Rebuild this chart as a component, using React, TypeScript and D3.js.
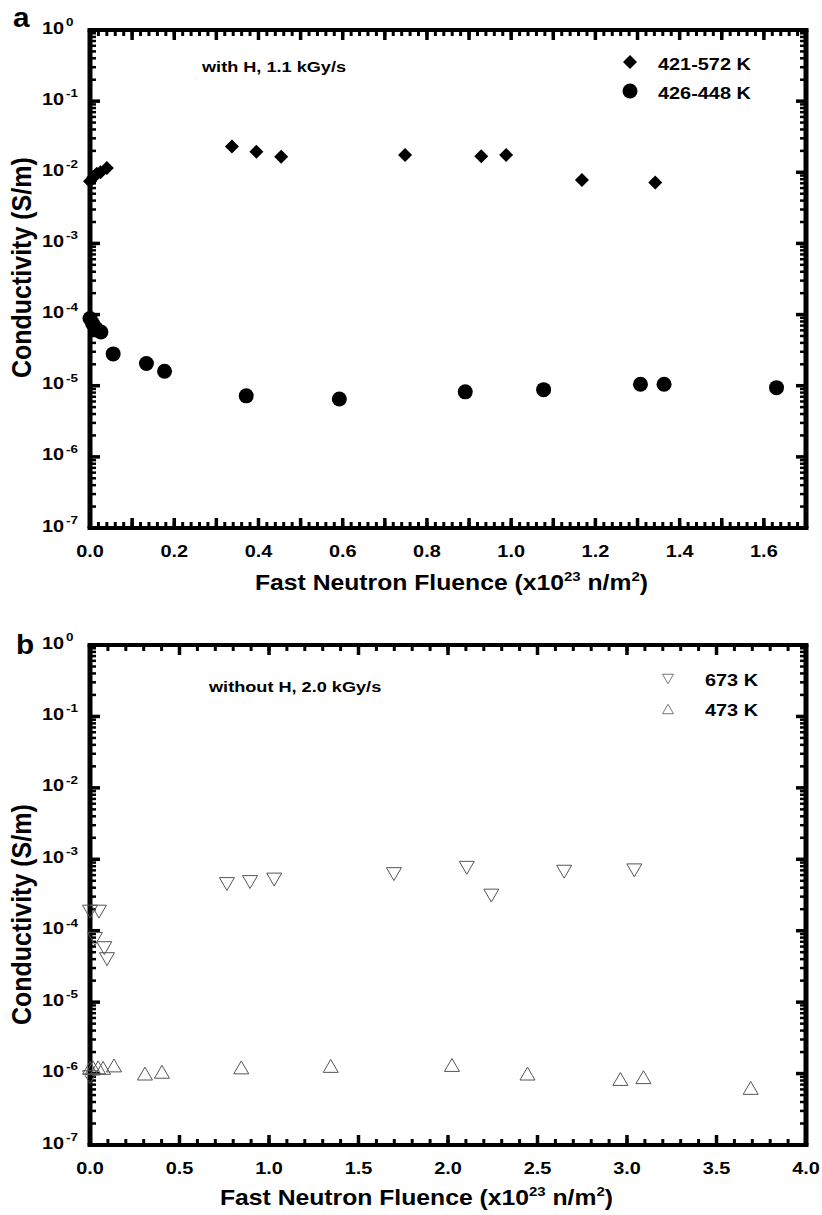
import * as d3 from "d3";
import React from "react";

// panel a: with H, 1.1 kGy/s
const aDiamondFluence = [0.0, 0.008, 0.016, 0.025, 0.04, 0.337, 0.395, 0.454, 0.748, 0.929, 0.988, 1.168, 1.342];
const aDiamondSigma = [7.5e-3, 8.5e-3, 9.5e-3, 1.0e-2, 1.15e-2, 2.3e-2, 1.95e-2, 1.65e-2, 1.75e-2, 1.68e-2, 1.75e-2, 7.8e-3, 7.2e-3];
const aCircleFluence = [0.0, 0.006, 0.014, 0.026, 0.055, 0.134, 0.177, 0.371, 0.592, 0.891, 1.077, 1.307, 1.363, 1.63];
const aCircleSigma = [8.8e-5, 7.5e-5, 6.4e-5, 5.7e-5, 2.8e-5, 2.05e-5, 1.6e-5, 7.2e-6, 6.5e-6, 8.2e-6, 8.8e-6, 1.05e-5, 1.05e-5, 9.4e-6];

// panel b: without H, 2.0 kGy/s
const bDownFluence = [0.0, 0.05, 0.028, 0.08, 0.095, 0.0, 0.765, 0.894, 1.029, 1.698, 2.105, 2.242, 2.649, 3.041];
const bDownSigma = [1.85e-4, 1.85e-4, 7.7e-5, 5.7e-5, 4.0e-5, 8.9e-7, 4.5e-4, 4.8e-4, 5.2e-4, 6.2e-4, 7.6e-4, 3.1e-4, 6.7e-4, 7.0e-4];
const bUpFluence = [0.0, 0.017, 0.045, 0.073, 0.134, 0.307, 0.402, 0.845, 1.345, 2.022, 2.444, 2.963, 3.092, 3.691];
const bUpSigma = [1.2e-6, 1.22e-6, 1.22e-6, 1.2e-6, 1.3e-6, 1.0e-6, 1.06e-6, 1.22e-6, 1.28e-6, 1.32e-6, 1.0e-6, 8.4e-7, 8.9e-7, 6.3e-7];

const aXLabels = [0, 0.2, 0.4, 0.6, 0.8, 1.0, 1.2, 1.4, 1.6];
const bXLabels = [0, 0.5, 1.0, 1.5, 2.0, 2.5, 3.0, 3.5, 4.0];
const yExponents = [-7, -6, -5, -4, -3, -2, -1, 0];
const aLegend = ["421-572 K", "426-448 K"];
const bLegend = ["673 K", "473 K"];
const aNote = "with H, 1.1 kGy/s";
const bNote = "without H, 2.0 kGy/s";

const FONT = "'Liberation Sans', Arial, Helvetica, sans-serif";
const SX = 1.17;

function Txt({ x, y, size, anchor = "start", sx = SX, rotate = false, children }: any) {
  const tr = rotate
    ? `translate(${x},${y}) rotate(-90) scale(1,${sx})`
    : `translate(${x},${y}) scale(${sx},1)`;
  return (
    <text transform={tr} fontSize={size} fontWeight="bold" fontFamily={FONT} textAnchor={anchor} fill="#000">
      {children}
    </text>
  );
}

const diamond = "M0,-7L7,0L0,7L-7,0Z";
const triDown = (s: number) => `M${-s / 2},${-s * 0.43}L${s / 2},${-s * 0.43}L0,${s * 0.43}Z`;
const triUp = (s: number) => `M0,${-s * 0.43}L${s / 2},${s * 0.43}L${-s / 2},${s * 0.43}Z`;

function Panel({ top, bottom, xMax, xMajor, xMinor, xLabels, fmt, children }: any) {
  const left = 90, right = 806;
  const x = d3.scaleLinear().domain([0, xMax]).range([left, right]);
  const y = d3.scaleLog().domain([1e-7, 1]).range([bottom, top]);

  const majX = d3.range(0, xMax + 1e-9, xMajor);
  const minX = d3.range(0, xMax + 1e-9, xMinor);
  const majY = yExponents.map((e) => Math.pow(10, e));
  const minY: number[] = [];
  yExponents.slice(0, -1).forEach((e) => {
    for (let k = 2; k <= 9; k++) minY.push(k * Math.pow(10, e));
  });

  return (
    <g>
      {/* x ticks, bottom and top, pointing inward */}
      {minX.map((v, i) => (
        <g key={"mx" + i}>
          <line x1={x(v)} x2={x(v)} y1={bottom} y2={bottom - 6} stroke="#000" strokeWidth={3} />
          <line x1={x(v)} x2={x(v)} y1={top} y2={top + 6} stroke="#000" strokeWidth={3} />
        </g>
      ))}
      {majX.map((v, i) => (
        <g key={"Mx" + i}>
          <line x1={x(v)} x2={x(v)} y1={bottom} y2={bottom - 10} stroke="#000" strokeWidth={3.5} />
          <line x1={x(v)} x2={x(v)} y1={top} y2={top + 10} stroke="#000" strokeWidth={3.5} />
        </g>
      ))}
      {minY.map((v, i) => (
        <g key={"my" + i}>
          <line x1={left} x2={left + 6} y1={y(v)} y2={y(v)} stroke="#000" strokeWidth={2.5} />
          <line x1={right} x2={right - 6} y1={y(v)} y2={y(v)} stroke="#000" strokeWidth={2.5} />
        </g>
      ))}
      {majY.map((v, i) => (
        <g key={"My" + i}>
          <line x1={left} x2={left + 10} y1={y(v)} y2={y(v)} stroke="#000" strokeWidth={3.5} />
          <line x1={right} x2={right - 10} y1={y(v)} y2={y(v)} stroke="#000" strokeWidth={3.5} />
        </g>
      ))}
      {/* frame */}
      <line x1={left - 2.5} x2={right + 2.5} y1={top} y2={top} stroke="#000" strokeWidth={4} />
      <line x1={left - 2.5} x2={right + 2.5} y1={bottom} y2={bottom} stroke="#000" strokeWidth={4} />
      <line x1={left} x2={left} y1={top} y2={bottom} stroke="#000" strokeWidth={5} />
      <line x1={right} x2={right} y1={top} y2={bottom} stroke="#000" strokeWidth={5} />

      {xLabels.map((v: number, i: number) => (
        <Txt key={"xl" + i} x={x(v)} y={bottom + 29} size={17} anchor="middle">
          {fmt(v)}
        </Txt>
      ))}
      {yExponents.map((e) => (
        <g key={"yl" + e}>
          <Txt x={64} y={y(Math.pow(10, e)) + 3.5} size={17} anchor="end">10</Txt>
          <Txt x={66} y={y(Math.pow(10, e)) - 4} size={11.5}>{e === 0 ? "0" : `-${-e}`}</Txt>
        </g>
      ))}
      {children(x, y)}
    </g>
  );
}

export default function App() {
  const f1 = d3.format(".1f");
  return (
    <svg width={822} height={1215} style={{ position: "absolute", left: 0, top: 0, display: "block", background: "#fff" }}>
      <rect width={822} height={1215} fill="#fff" />
      {/* ---- panel a ---- */}
      <Txt x={13} y={27} size={27} sx={1.1}>a</Txt>
      <Panel top={30} bottom={528} xMax={1.7} xMajor={0.1} xMinor={0.02} xLabels={aXLabels} fmt={f1}>
        {(x: any, y: any) => (
          <g>
            {aDiamondFluence.map((v, i) => (
              <path key={"d" + i} d={diamond} transform={`translate(${x(v)},${y(aDiamondSigma[i])})`} fill="#000" />
            ))}
            {aCircleFluence.map((v, i) => (
              <circle key={"c" + i} cx={x(v)} cy={y(aCircleSigma[i])} r={7.5} fill="#000" />
            ))}
          </g>
        )}
      </Panel>
      <Txt x={202} y={72} size={15.5}>{aNote}</Txt>
      <path d={diamond} transform="translate(630,62)" fill="#000" />
      <Txt x={658} y={70} size={17}>{aLegend[0]}</Txt>
      <circle cx={630} cy={91} r={7.5} fill="#000" />
      <Txt x={658} y={99} size={17}>{aLegend[1]}</Txt>
      <Txt x={31} y={378} size={25} sx={1.12} rotate>Conductivity (S/m)</Txt>
      <Txt x={255} y={590} size={21.5} sx={1.15}>
        Fast Neutron Fluence (x10<tspan dy={-9} fontSize={13}>23</tspan>
        <tspan dy={9}> n/m</tspan>
        <tspan dy={-9} fontSize={13}>2</tspan>
        <tspan dy={9}>)</tspan>
      </Txt>

      {/* ---- panel b ---- */}
      <Txt x={16} y={654} size={27} sx={1.1}>b</Txt>
      <Panel top={645} bottom={1145} xMax={4.0} xMajor={0.5} xMinor={0.1} xLabels={bXLabels} fmt={f1}>
        {(x: any, y: any) => (
          <g>
            {bDownFluence.map((v, i) => (
              <path key={"dn" + i} d={triDown(15)} transform={`translate(${x(v)},${y(bDownSigma[i])})`} fill="none" stroke="#555" strokeWidth={1} />
            ))}
            {bUpFluence.map((v, i) => (
              <path key={"up" + i} d={triUp(15)} transform={`translate(${x(v)},${y(bUpSigma[i])})`} fill="none" stroke="#555" strokeWidth={1} />
            ))}
          </g>
        )}
      </Panel>
      <Txt x={209} y={692} size={15.5}>{bNote}</Txt>
      <path d={triDown(11)} transform="translate(668,679)" fill="none" stroke="#777" strokeWidth={1} />
      <Txt x={705} y={686} size={17}>{bLegend[0]}</Txt>
      <path d={triUp(11)} transform="translate(668,709)" fill="none" stroke="#777" strokeWidth={1} />
      <Txt x={705} y={716} size={17}>{bLegend[1]}</Txt>
      <Txt x={31} y={1025} size={25} sx={1.12} rotate>Conductivity (S/m)</Txt>
      <Txt x={220} y={1205} size={21.5} sx={1.15}>
        Fast Neutron Fluence (x10<tspan dy={-9} fontSize={13}>23</tspan>
        <tspan dy={9}> n/m</tspan>
        <tspan dy={-9} fontSize={13}>2</tspan>
        <tspan dy={9}>)</tspan>
      </Txt>
    </svg>
  );
}
